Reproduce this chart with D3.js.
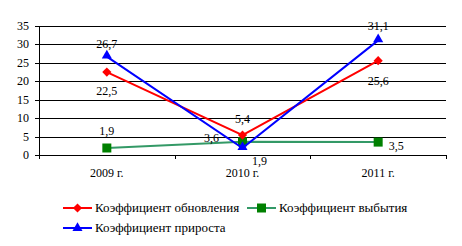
<!DOCTYPE html>
<html>
<head>
<meta charset="utf-8">
<script src="https://cdn.jsdelivr.net/npm/d3@7"></script>
<style>
  body { margin: 0; background: #fff; }
</style>
</head>
<body>
<div id="chart"></div>
<script>
// data
var years = ["2009 г.", "2010 г.", "2011 г."];
var renewal = [22.5, 5.4, 25.6];   // Коэффициент обновления
var disposal = [1.9, 3.6, 3.5];    // Коэффициент выбытия
var growth = [26.7, 1.9, 31.1];    // Коэффициент прироста
var yTicks = [0, 5, 10, 15, 20, 25, 30, 35];

var width = 462, height = 246;
var plot = { left: 39, right: 446, top: 26, bottom: 155 };

var svg = d3.select("#chart").append("svg")
  .attr("width", width)
  .attr("height", height)
  .attr("font-family", "'Liberation Serif', 'Times New Roman', serif");

var x = d3.scaleBand().domain(years).range([plot.left, plot.right]);
var y = d3.scaleLinear().domain([0, 35]).range([plot.bottom, plot.top]);

// gridlines
svg.append("g")
  .selectAll("line")
  .data(yTicks)
  .enter()
  .append("line")
  .attr("x1", plot.left - 4)
  .attr("x2", plot.right)
  .attr("y1", function (d) { return Math.round(y(d)) + 0.5; })
  .attr("y2", function (d) { return Math.round(y(d)) + 0.5; })
  .attr("stroke", "#000")
  .attr("stroke-width", 1);

// y axis labels
svg.append("g")
  .selectAll("text")
  .data(yTicks)
  .enter()
  .append("text")
  .attr("x", plot.left - 10)
  .attr("y", function (d) { return y(d) + 4; })
  .attr("text-anchor", "end")
  .attr("font-size", 12)
  .text(function (d) { return d; });

// y axis line
svg.append("line")
  .attr("x1", plot.left + 0.5).attr("x2", plot.left + 0.5)
  .attr("y1", y(35)).attr("y2", y(0))
  .attr("stroke", "#000");

// x axis ticks at category boundaries
var bounds = years.map(function (d) { return x(d); }).concat([plot.right]);
svg.append("g")
  .selectAll("line")
  .data(bounds)
  .enter()
  .append("line")
  .attr("x1", function (d) { return Math.round(d) + 0.5; })
  .attr("x2", function (d) { return Math.round(d) + 0.5; })
  .attr("y1", y(0))
  .attr("y2", y(0) + 4)
  .attr("stroke", "#000");

// x labels
svg.append("g")
  .selectAll("text")
  .data(years)
  .enter()
  .append("text")
  .attr("x", function (d) { return x(d) + x.bandwidth() / 2; })
  .attr("y", 177)
  .attr("text-anchor", "middle")
  .attr("font-size", 12)
  .text(function (d) { return d; });

var cx = function (i) { return x(years[i]) + x.bandwidth() / 2; };

var series = [
  { name: "Коэффициент обновления", values: renewal, line: "#ff0000", fill: "#ff0000", shape: d3.symbolSquare, size: 42, rot: 45 },
  { name: "Коэффициент выбытия", values: disposal, line: "#339966", fill: "#008000", shape: d3.symbolSquare, size: 81, rot: 0 },
  { name: "Коэффициент прироста", values: growth, line: "#0000ff", fill: "#0000ff", shape: d3.symbolTriangle, size: 44, rot: 0 }
];

var line = d3.line()
  .x(function (d, i) { return cx(i); })
  .y(function (d) { return y(d); });

// draw disposal first, then renewal, then growth on top
[1, 0, 2].forEach(function (k) {
  var s = series[k];
  svg.append("path")
    .attr("d", line(s.values))
    .attr("fill", "none")
    .attr("stroke", s.line)
    .attr("stroke-width", 2);
  svg.append("g")
    .selectAll("path")
    .data(s.values)
    .enter()
    .append("path")
    .attr("d", d3.symbol().type(s.shape).size(s.size))
    .attr("transform", function (d, i) {
      var dy = s.shape === d3.symbolTriangle ? -1 : 0;
      return "translate(" + cx(i) + "," + (y(d) + dy) + ") rotate(" + s.rot + ")";
    })
    .attr("fill", s.fill);
});

// data labels: [series index, point index, dx, dy]
var labelPos = [
  [0, 0, 0, 19], [0, 1, 0, -16], [0, 2, 0, 20],
  [1, 0, 0, -17], [1, 1, -31, -4], [1, 2, 18, 4],
  [2, 0, 0, -13], [2, 1, 17, 13], [2, 2, 0, -14]
];
svg.append("g")
  .selectAll("text")
  .data(labelPos)
  .enter()
  .append("text")
  .attr("x", function (d) { return cx(d[1]) + d[2]; })
  .attr("y", function (d) { return y(series[d[0]].values[d[1]]) + d[3] + 4; })
  .attr("text-anchor", "middle")
  .attr("font-size", 12)
  .attr("fill", "#000")
  .text(function (d) { return String(series[d[0]].values[d[1]]).replace(".", ","); });

// legend
var legendItems = [
  { s: series[0], x: 63, y: 208 },
  { s: series[1], x: 247, y: 208 },
  { s: series[2], x: 63, y: 228 }
];
var lg = svg.append("g").selectAll("g")
  .data(legendItems)
  .enter()
  .append("g")
  .attr("transform", function (d) { return "translate(" + d.x + "," + d.y + ")"; });
lg.append("line")
  .attr("x1", 0).attr("x2", 29)
  .attr("y1", 0).attr("y2", 0)
  .attr("stroke", function (d) { return d.s.line; })
  .attr("stroke-width", 2);
lg.append("path")
  .attr("d", function (d) { return d3.symbol().type(d.s.shape).size(d.s.size)(); })
  .attr("transform", function (d) { return "translate(14.5,0) rotate(" + d.s.rot + ")"; })
  .attr("fill", function (d) { return d.s.fill; });
lg.append("text")
  .attr("x", 32)
  .attr("y", 4)
  .attr("font-size", 13)
  .text(function (d) { return d.s.name; });
</script>
</body>
</html>
